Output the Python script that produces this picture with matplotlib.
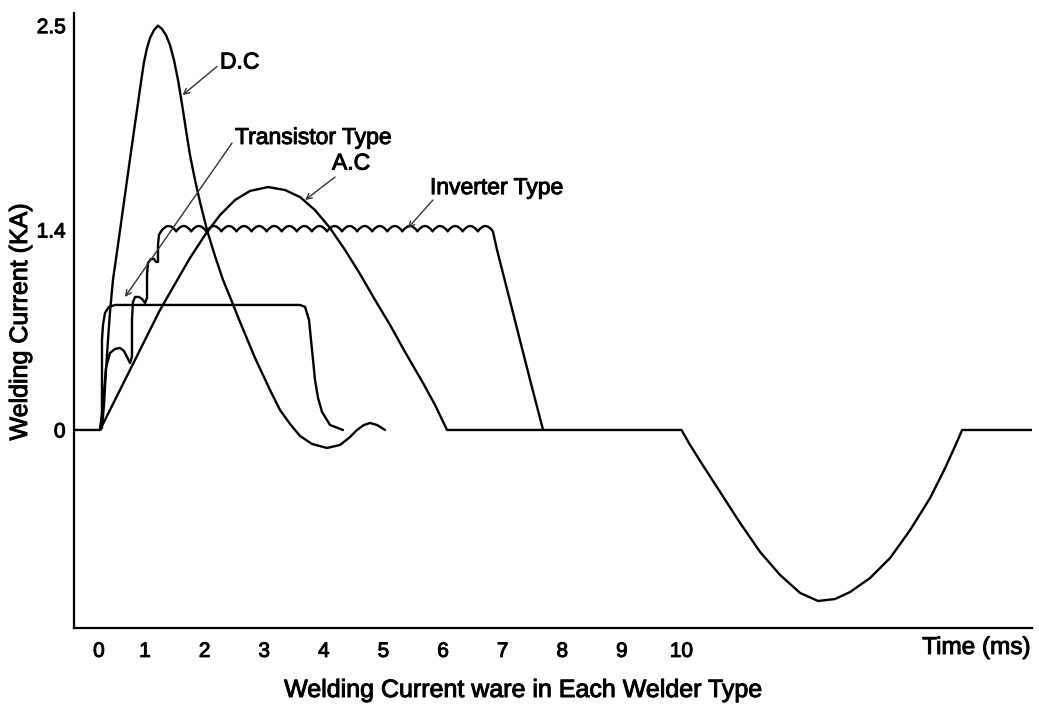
import numpy as np
import matplotlib
matplotlib.use("Agg")
import matplotlib.pyplot as plt
import matplotlib.patheffects as pe
from matplotlib.path import Path
from matplotlib.patches import PathPatch

# ---------------- data (time in ms, current in KA) ----------------
dc_t = [0.02, 0.065, 0.109, 0.152, 0.196, 0.239, 0.304, 0.413, 0.543, 0.674, 0.761,
        0.848, 0.913, 0.978, 1.034, 1.084, 1.151, 1.218, 1.285, 1.352, 1.419, 1.486,
        1.554, 1.621, 1.688, 1.755, 1.839, 1.923, 2.040, 2.174, 2.309, 2.460, 2.594,
        2.846, 3.097, 3.265, 3.433, 3.601, 3.802, 4.054, 4.272, 4.440, 4.557, 4.674,
        4.775, 4.893, 5.027]
dc_i = [0.0, 0.014, 0.175, 0.42, 0.63, 0.826, 1.05, 1.295, 1.550, 1.782, 1.933,
        2.083, 2.196, 2.304, 2.379, 2.433, 2.476, 2.50, 2.482, 2.449, 2.396, 2.315,
        2.207, 2.078, 1.938, 1.803, 1.669, 1.550, 1.40, 1.218, 1.05, 0.896, 0.756,
        0.504, 0.28, 0.14, 0.042, -0.042, -0.098, -0.126, -0.105, -0.049, 0.0, 0.035,
        0.049, 0.035, 0.0]

tr_t = [0.02, 0.065, 0.065, 0.087, 0.13, 0.217, 0.348, 3.601, 3.685, 3.752, 3.785,
        3.819, 3.852, 3.903, 3.970, 4.104, 4.322]
tr_i = [0.0, 0.035, 0.63, 0.735, 0.819, 0.861, 0.875, 0.875, 0.861, 0.77, 0.63,
        0.49, 0.35, 0.224, 0.126, 0.035, 0.0]

inv_rise_t = [0.02, 0.087, 0.152, 0.239, 0.348, 0.457, 0.543, 0.609, 0.674, 0.717,
              0.717, 0.739, 0.783, 0.87, 0.935, 1.0, 1.034, 1.034, 1.05, 1.101,
              1.151, 1.185, 1.218, 1.218, 1.235, 1.268]
inv_rise_i = [0.0, 0.175, 0.434, 0.539, 0.567, 0.574, 0.553, 0.511, 0.469, 0.511,
              0.77, 0.896, 0.931, 0.931, 0.917, 0.889, 0.924, 1.085, 1.169, 1.197,
              1.197, 1.176, 1.176, 1.295, 1.365, 1.39]
inv_ripple_cusps = [1.27, 1.523, 1.776, 2.029, 2.282, 2.535, 2.788, 3.041, 3.294,
                    3.547, 3.80, 4.053, 4.306, 4.559, 4.812, 5.065, 5.318, 5.571,
                    5.824, 6.077, 6.33, 6.583, 6.836]
inv_ripple_low = 1.39
inv_ripple_high = 1.42
inv_fall_t = [6.906, 7.46, 7.678]
inv_fall_i = [1.26, 0.35, 0.0]

ac_t = [-0.6, 0.02, 0.087, 0.348, 0.674, 1.0, 1.252, 1.503, 1.755, 2.007, 2.258,
        2.510, 2.762, 3.064, 3.349, 3.601, 3.852, 4.104, 4.356, 4.607, 4.859,
        5.111, 5.362, 5.664, 5.866, 6.067, 10.0, 10.144, 10.312, 10.648, 10.983,
        11.319, 11.654, 11.990, 12.292, 12.577, 12.829, 13.164, 13.50, 13.836,
        14.171, 14.423, 14.591, 14.708, 16.0]
ac_i = [0.0, 0.0, 0.042, 0.21, 0.42, 0.63, 0.84, 1.022, 1.204, 1.365, 1.480,
        1.561, 1.610, 1.631, 1.615, 1.577, 1.507, 1.410, 1.26, 1.092, 0.91,
        0.735, 0.546, 0.329, 0.175, 0.0, 0.0, -0.105, -0.217, -0.434, -0.651,
        -0.854, -1.015, -1.141, -1.197, -1.183, -1.134, -1.036, -0.896, -0.70,
        -0.476, -0.266, -0.112, 0.0, 0.0]

x_ticks = [0, 1, 2, 3, 4, 5, 6, 7, 8, 9, 10]
x_ticklabels = ["0", "1", "2", "3", "4", "5", "6", "7", "8", "9", "10"]
y_ticks = [0, 1.4, 2.5]
y_ticklabels = ["0", "1.4", "2.5"]

# ---------------- figure ----------------
FONT = ["Liberation Sans", "DejaVu Sans"]
plt.rcParams["font.family"] = FONT
W, H = 1039, 709
fig = plt.figure(figsize=(W / 100, H / 100), dpi=100)
ax = fig.add_axes([74 / W, 1 - 628 / H, (1032 - 74) / W, (628 - 13) / H])

# schematic (non-uniform) axes of the original drawing
def xf(t):
    t = np.asarray(t, dtype=float)
    return np.where(t < 1, 1 - (1 - t) * 46 / 59.6, t)

def xi(u):
    u = np.asarray(u, dtype=float)
    return np.where(u < 1, 1 - (1 - u) * 59.6 / 46, u)

def yf(y):
    y = np.asarray(y, dtype=float)
    return np.where(y > 1.4, 1.4 + (y - 1.4) * 1.3, y)

def yi(v):
    v = np.asarray(v, dtype=float)
    return np.where(v > 1.4, 1.4 + (v - 1.4) / 1.3, v)

ax.set_xscale("function", functions=(xf, xi))
ax.set_yscale("function", functions=(yf, yi))
ax.set_xlim(-0.543, 15.88)
ax.set_ylim(-1.386, 2.568)

LW = 1.7
kw = dict(color="black", lw=LW, solid_joinstyle="round", solid_capstyle="round")
ax.plot(ac_t, ac_i, **kw)
ax.plot(dc_t, dc_i, **kw)
ax.plot(tr_t, tr_i, **kw)

# inverter: staircase rise, rippled plateau, linear fall
verts = [(inv_rise_t[0], inv_rise_i[0])]
codes = [Path.MOVETO]
for t, i in zip(inv_rise_t[1:], inv_rise_i[1:]):
    verts.append((t, i)); codes.append(Path.LINETO)
verts.append((inv_ripple_cusps[0], inv_ripple_low)); codes.append(Path.LINETO)
for a, b in zip(inv_ripple_cusps[:-1], inv_ripple_cusps[1:]):
    verts.append(((a + b) / 2, 2 * inv_ripple_high - inv_ripple_low)); codes.append(Path.CURVE3)
    verts.append((b, inv_ripple_low)); codes.append(Path.CURVE3)
for t, i in zip(inv_fall_t, inv_fall_i):
    verts.append((t, i)); codes.append(Path.LINETO)
ax.add_patch(PathPatch(Path(verts, codes), fill=False, ec="black", lw=LW,
                       joinstyle="round", capstyle="round", transform=ax.transData))

# axes styling
for s in ("top", "right"):
    ax.spines[s].set_visible(False)
for s in ("left", "bottom"):
    ax.spines[s].set_linewidth(1.6)
ax.set_xticks(x_ticks)
ax.set_xticklabels(x_ticklabels)
ax.set_yticks(y_ticks)
ax.set_yticklabels(y_ticklabels)
ax.minorticks_off()
ax.tick_params(length=0, labelsize=15)
ax.tick_params(axis="x", pad=10)
ax.tick_params(axis="y", pad=6)

BOLDISH = [pe.withStroke(linewidth=0.7, foreground="black")]
for lab in ax.get_xticklabels() + ax.get_yticklabels():
    lab.set_path_effects(BOLDISH)

fig.text(20 / W, 1 - 322 / H, "Welding Current (KA)", rotation=90, fontsize=18,
         ha="center", va="center", path_effects=BOLDISH)
fig.text(1030 / W, 1 - 648 / H, "Time (ms)", fontsize=17.5, ha="right", va="center",
         path_effects=BOLDISH)
fig.text(523 / W, 1 - 690 / H, "Welding Current ware in Each Welder Type",
         fontsize=18, ha="center", va="center", path_effects=BOLDISH)

# annotations
akw = dict(arrowstyle="->", lw=1.0, color="#333333", mutation_scale=10,
           shrinkA=0, shrinkB=0)
TFS = 16.5
ax.annotate("", xy=(1.63, 2.126), xytext=(2.208, 2.28), arrowprops=akw)
ax.text(2.258, 2.304, "D.C", fontsize=TFS, ha="left", va="center", path_effects=BOLDISH)

ax.annotate("", xy=(0.565, 0.931), xytext=(2.46, 1.868), arrowprops=akw)
ax.text(2.51, 1.898, "Transistor Type", fontsize=TFS, ha="left", va="center",
        path_effects=BOLDISH)

ax.annotate("", xy=(3.685, 1.561), xytext=(4.188, 1.685), arrowprops=akw)
ax.text(4.137, 1.76, "A.C", fontsize=TFS, ha="left", va="center", path_effects=BOLDISH)

ax.annotate("", xy=(5.41, 1.41), xytext=(5.83, 1.561), arrowprops=akw)
ax.text(5.78, 1.628, "Inverter Type", fontsize=TFS, ha="left", va="center",
        path_effects=BOLDISH)

fig.savefig("out.png", dpi=100, facecolor="white")
